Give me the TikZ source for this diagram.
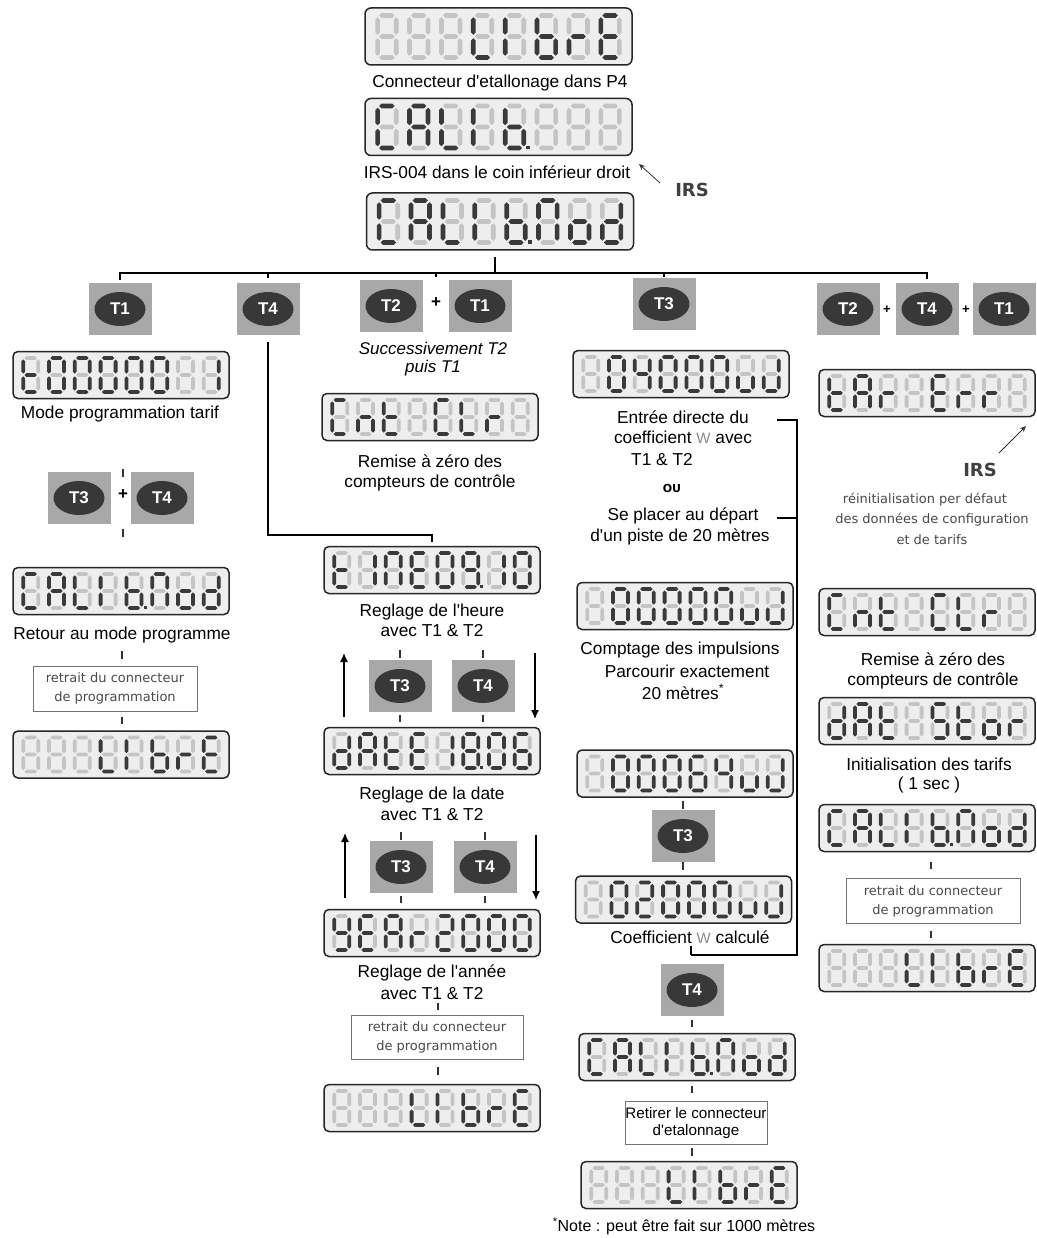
\documentclass[tikz,border=0pt]{standalone}
\usepackage{fontspec}
\setmainfont{Liberation Sans}
\newfontfamily\mainf{Liberation Sans}
\newfontfamily\smallf{DejaVu Sans}
\usetikzlibrary{shapes.geometric,arrows.meta}
\definecolor{segon}{HTML}{3A3A3A}
\definecolor{segoff}{HTML}{C4C4C4}
\definecolor{lcdbg}{HTML}{EEEEEE}
\definecolor{btnsq}{HTML}{A8A8A8}
\definecolor{btnel}{HTML}{383838}
\definecolor{greytxt}{HTML}{4A4A4A}
\definecolor{wgrey}{HTML}{8A8A8A}

\makeatletter
\newcommand\setsegcol[2]{\edef\segtmp{\noexpand\in@{#1}{#2}}\segtmp
  \ifin@\colorlet{segc}{segon}\else\colorlet{segc}{segoff}\fi}
\newcommand\dpdot[1]{\edef\segtmp{\noexpand\in@{p}{#1}}\segtmp
  \ifin@\fill[segon] (9.6,15.2) rectangle (12.6,18.2);\fi}
\makeatother
\newcommand\hseg[3]{\setsegcol{#1}{#3}%
  \fill[segc] (-6.2,#2) -- (-4.3,#2-1.9) -- (4.3,#2-1.9) -- (6.2,#2) -- (4.3,#2+1.9) -- (-4.3,#2+1.9) -- cycle;}
\newcommand\vseg[5]{\setsegcol{#1}{#5}%
  \fill[segc] (#2,#3) -- (#2+1.9,#3+1.9) -- (#2+1.9,#4-1.9) -- (#2,#4) -- (#2-1.9,#4-1.9) -- (#2-1.9,#3+1.9) -- cycle;}
\newcommand\sdigit[1]{%
  \hseg{a}{-17}{#1}\hseg{g}{0}{#1}\hseg{d}{17}{#1}%
  \vseg{f}{-7.5}{-15.6}{-1.4}{#1}\vseg{b}{7.5}{-15.6}{-1.4}{#1}%
  \vseg{e}{-7.5}{1.4}{15.6}{#1}\vseg{c}{7.5}{1.4}{15.6}{#1}%
  \dpdot{#1}}
\newcommand\lcdshow[3]{%
  \begin{scope}[shift={(#1.center)},scale=#2]
  \foreach \dg [count=\i] in #3 {
    \begin{scope}[shift={({-90.3+25.8*(\i-1)},0)}]
      \sdigit{\dg}
    \end{scope}}
  \end{scope}}
\newcommand\tbtn[4]{%
  \node[btnbox] (#1) at (#2,#3) {};
  \node[btnoval] (#1e) at (#1.center) {#4};}
\newcommand\tick[3]{\draw[tickline] (#1,#2) -- (#1,#3);}

\def\LIBRE{-,-,-,fed,fe,fedcg,eg,afged}
\def\CALB{afed,abcefg,fed,fe,fedcgp,-,-,-}
\def\CALMOD{afed,abcefg,fed,fe,fedcgp,abcef,cdeg,bcdeg}
\def\TZERO{fedg,abcdef,abcdef,abcdef,abcdef,abcdef,-,bc}
\def\CNTCLR{afed,ceg,fedg,-,afed,fed,eg,-}
\def\TIMEH{fedg,bc,abcef,afged,abcdef,abcdfgp,bc,abcdef}
\def\DATEH{bcdeg,abcefg,fedg,afged,bc,abcdefgp,abcdef,acdefg}
\def\YEARH{bcdfg,afged,abcefg,eg,abdeg,abcdef,abcdef,abcdef}
\def\CA{-,abcdef,bcfg,abcdef,abcdef,abcdef,cde,bcde}
\def\CB{-,abcdef,abcdef,abcdef,abcdef,abcdef,cde,bcde}
\def\CC{-,abcdef,abcdef,abcdef,acdefg,bcfg,cde,bcde}
\def\CD{-,abcdef,abdeg,abcdef,abcdef,abcdef,cde,bcde}
\def\TARERR{fedg,abcefg,eg,-,afged,eg,eg,-}
\def\DATSTOR{bcdeg,abcefg,fedg,-,acdfg,fedg,cdeg,eg}

\begin{document}
\begin{tikzpicture}[x=1pt,y=-1pt,
  lcd/.style={draw=black!85, line width=1.5pt, fill=lcdbg, rounded corners=5pt,
    minimum width=216pt, minimum height=47pt, inner sep=0pt},
  lcdbig/.style={lcd, minimum width=267pt, minimum height=57pt, rounded corners=6pt},
  btnbox/.style={fill=btnsq, minimum width=63pt, minimum height=52pt, inner sep=0pt},
  btnoval/.style={ellipse, fill=btnel, minimum width=51pt, minimum height=34pt, inner sep=0pt,
    text=white, font=\mainf\fontsize{17}{17}\selectfont\bfseries},
  txt/.style={font=\mainf\fontsize{17.3}{20}\selectfont, inner sep=0pt, anchor=center},
  itxt/.style={txt, font=\mainf\fontsize{17}{20}\selectfont\itshape},
  stxt/.style={font=\smallf\fontsize{13}{15}\selectfont, text=greytxt, inner sep=0pt},
  irstxt/.style={font=\smallf\fontsize{18}{18}\selectfont\bfseries, text=black!75, inner sep=0pt},
  rbox/.style={draw=black!55, line width=0.9pt, fill=white, inner sep=0pt},
  conn/.style={draw=black, line width=1.3pt},
  tickline/.style={draw=black!80, line width=1.3pt},
  updown/.style={draw=black, line width=1.3pt, -{Latex[length=9pt,width=8pt]}},
  plus/.style={font=\mainf\fontsize{17}{17}\selectfont\bfseries, inner sep=0pt},
  splus/.style={font=\mainf\fontsize{13}{13}\selectfont\bfseries, inner sep=0pt}]
\useasboundingbox[fill=white] (0,0) rectangle (1036,1238);

% ---------- top column ----------
\node[lcdbig] (d1) at (498.5,36.5) {};
\lcdshow{d1}{1.236}{\LIBRE}
\node[txt] (t1) at (500,83) {Connecteur d'etallonage dans P4};
\node[lcdbig] (d2) at (498.5,127) {};
\lcdshow{d2}{1.236}{\CALB}
\node[txt] (t2) at (497,172) {IRS-004 dans le coin inférieur droit};
\node[irstxt] (irs1) at (692,190) {IRS};
\coordinate (a1s) at (660,183);
\coordinate (a1e) at (639,164);
\draw[draw=black!80, line width=0.8pt, -{Stealth[length=6pt,width=5pt]}] (a1s) -- (a1e);
\node[lcdbig] (d3) at (500,221.5) {};
\lcdshow{d3}{1.236}{\CALMOD}

% ---------- bus ----------
\coordinate (busL) at (120,273);
\coordinate (busR) at (927,273);
\coordinate (busC) at (495,273);
\draw[conn] (495,257) -- (busC);
\draw[conn] (120,280) -- (busL) -- (busR) -- (927,279);
\draw[conn] (268,273) -- (268,278);
\draw[conn] (436,273) -- (436,277);
\draw[conn] (664,273) -- (664,277);

% ---------- buttons row ----------
\tbtn{bA}{120}{309}{T1}
\tbtn{bB}{268}{309}{T4}
\tbtn{bC}{391}{306}{T2}
\node[plus] (pC) at (436,303) {+};
\tbtn{bD}{480}{306}{T1}
\tbtn{bE}{664}{304}{T3}
\tbtn{bF}{848}{309}{T2}
\node[splus] (pF) at (887,310) {+};
\tbtn{bG}{927}{309}{T4}
\node[splus] (pG) at (966,310) {+};
\tbtn{bH}{1004}{309}{T1}

% ---------- column 1 ----------
\node[lcd] (dL1) at (121,375) {};
\lcdshow{dL1}{1}{\TZERO}
\node[txt] (tL1) at (120,414) {Mode programmation tarif};
\tick{123}{469}{477}
\tbtn{bL1}{79}{498}{T3}
\node[plus] (pL) at (123,495) {+};
\tbtn{bL2}{162}{498}{T4}
\tick{123}{529}{537}
\node[lcd] (dL2) at (121,591) {};
\lcdshow{dL2}{1}{\CALMOD}
\node[txt] (tL2) at (122,635) {Retour au mode programme};
\tick{122}{651}{659}
\node[rbox, minimum width=164pt, minimum height=45pt] (boxL) at (115,688.5) {};
\node[stxt] (boxLa) at (115,678) {retrait du connecteur};
\node[stxt] (boxLb) at (115,698) {de programmation};
\tick{122}{717}{724}
\node[lcd] (dL3) at (121,754.5) {};
\lcdshow{dL3}{1}{\LIBRE}

% ---------- column 2 (T2+T1) ----------
\node[itxt] (tS1) at (433,348) {Successivement T2};
\node[itxt] (tS2) at (433,368) {puis T1};
\node[lcd] (dC1) at (430,417) {};
\lcdshow{dC1}{1}{\CNTCLR}
\node[txt] (tC1) at (430,461) {Remise à zéro des};
\node[txt] (tC2) at (430,483) {compteurs de contrôle};

% ---------- column T4 ----------
\node[lcd] (dC2) at (432,570) {};
\lcdshow{dC2}{1}{\TIMEH}
\draw[conn] ([yshift=-7pt]bB.south) -- (268,535) -- (432,535) -- ([yshift=4pt]dC2.north);
\node[txt] (tH1) at (432,612) {Reglage de l'heure};
\node[txt] (tH2) at (432,631) {avec T1 \& T2};
\coordinate (up1s) at (344,717); \coordinate (up1e) at (344,653);
\draw[updown] (up1s) -- (up1e);
\coordinate (dn1s) at (535,653); \coordinate (dn1e) at (535,719);
\draw[updown] (dn1s) -- (dn1e);
\tick{400}{650}{658}\tick{400}{715}{722}
\tick{483}{650}{658}\tick{483}{715}{722}
\tbtn{bH3}{400}{686}{T3}
\tbtn{bH4}{483}{686}{T4}
\node[lcd] (dC3) at (432,751) {};
\lcdshow{dC3}{1}{\DATEH}
\node[txt] (tD1) at (432,795) {Reglage de la date};
\node[txt] (tD2) at (432,815) {avec T1 \& T2};
\coordinate (up2s) at (345,898); \coordinate (up2e) at (345,833);
\draw[updown] (up2s) -- (up2e);
\coordinate (dn2s) at (536,835); \coordinate (dn2e) at (536,900);
\draw[updown] (dn2s) -- (dn2e);
\tick{401}{832}{840}\tick{401}{896}{903}
\tick{485}{832}{840}\tick{485}{896}{903}
\tbtn{bD3}{401}{867}{T3}
\tbtn{bD4}{485}{867}{T4}
\node[lcd] (dC4) at (432,933) {};
\lcdshow{dC4}{1}{\YEARH}
\node[txt] (tY1) at (432,973) {Reglage de l'année};
\node[txt] (tY2) at (432,994) {avec T1 \& T2};
\tick{438}{1003}{1010}
\node[rbox, minimum width=172pt, minimum height=44pt] (boxC) at (437,1037) {};
\node[stxt] (boxCa) at (437,1027) {retrait du connecteur};
\node[stxt] (boxCb) at (437,1047) {de programmation};
\tick{438}{1067}{1075}
\node[lcd] (dC5) at (432,1108) {};
\lcdshow{dC5}{1}{\LIBRE}

% ---------- column T3 ----------
\node[lcd] (dD1) at (681,374) {};
\lcdshow{dD1}{1}{\CA}
\node[txt] (tE1) at (683,417) {Entrée directe du};
\node[txt] (tE2) at (683,437) {coefficient {\color{wgrey}\fontsize{15}{15}\selectfont W} avec};
\node[txt] (tE3) at (662,460) {T1 \& T2};
\node[font=\smallf\fontsize{11}{11}\selectfont\bfseries, inner sep=0pt] (tOU) at (672,488) {OU};
\node[txt] (tE4) at (683,516) {Se placer au départ};
\node[txt] (tE5) at (680,537) {d'un piste de 20 mètres};
\coordinate (br1) at (777,420);
\coordinate (br2) at (777,518);
\coordinate (brc) at (797,955);
\coordinate (brj) at (691,955);
\draw[conn] (br1) -- (797,420) -- (brc) -- (brj);
\draw[conn] (br2) -- (797,518);
\node[lcd] (dD2) at (685,606) {};
\lcdshow{dD2}{1}{\CB}
\node[txt] (tP1) at (680,650) {Comptage des impulsions};
\node[txt] (tP2) at (687,671) {Parcourir exactement};
\node[txt] (tP3) at (683,692) {20 mètres\textsuperscript{*}};
\node[lcd] (dD3) at (685,773.5) {};
\lcdshow{dD3}{1}{\CC}
\tick{683}{801}{809}
\tbtn{bK3}{683}{836}{T3}
\tick{683}{862}{870}
\node[lcd] (dD4) at (683.5,899.5) {};
\lcdshow{dD4}{1}{\CD}
\node[txt] (tW) at (690,937) {Coefficient {\color{wgrey}\fontsize{15}{15}\selectfont W} calculé};
\draw[conn] (691,946) -- (brj);
\tbtn{bK4}{692}{990}{T4}
\tick{692}{1020}{1027}
\node[lcd] (dD5) at (687,1057) {};
\lcdshow{dD5}{1}{\CALMOD}
\tick{692}{1086}{1093}
\node[rbox, minimum width=142pt, minimum height=43pt] (boxD) at (696,1122.5) {};
\node[txt, font=\mainf\fontsize{15.2}{17}\selectfont] (boxDa) at (696,1113) {Retirer le connecteur};
\node[txt, font=\mainf\fontsize{15.2}{17}\selectfont] (boxDb) at (696,1132) {d'etalonnage};
\tick{692}{1148}{1156}
\node[lcd] (dD6) at (689,1185) {};
\lcdshow{dD6}{1}{\LIBRE}
\node[txt, font=\mainf\fontsize{16}{18}\selectfont] (tNote) at (684,1226) {\textsuperscript{*}Note : peut être fait sur 1000 mètres};

% ---------- right column ----------
\node[lcd] (dR1) at (927,393) {};
\lcdshow{dR1}{1}{\TARERR}
\coordinate (a2s) at (999,453);
\coordinate (a2e) at (1026,426);
\draw[draw=black!80, line width=0.8pt, -{Stealth[length=6pt,width=5pt]}] (a2s) -- (a2e);
\node[irstxt] (irs2) at (980,470) {IRS};
\node[stxt] (tR1) at (925,500) {réinitialisation per défaut};
\node[stxt] (tR2) at (932,520) {des données de configuration};
\node[stxt] (tR3) at (932,540) {et de tarifs};
\node[lcd] (dR2) at (927,612) {};
\lcdshow{dR2}{1}{\CNTCLR}
\node[txt] (tR4) at (933,659) {Remise à zéro des};
\node[txt] (tR5) at (933,681) {compteurs de contrôle};
\node[lcd] (dR3) at (927,721) {};
\lcdshow{dR3}{1}{\DATSTOR}
\node[txt] (tR6) at (929,764) {Initialisation des tarifs};
\node[txt] (tR7) at (929,785) {( 1 sec )};
\node[lcd] (dR4) at (927,828) {};
\lcdshow{dR4}{1}{\CALMOD}
\tick{931}{862}{869}
\node[rbox, minimum width=174pt, minimum height=45pt] (boxR) at (933,901) {};
\node[stxt] (boxRa) at (933,891) {retrait du connecteur};
\node[stxt] (boxRb) at (933,911) {de programmation};
\tick{931}{931}{938}
\node[lcd] (dR5) at (927,968) {};
\lcdshow{dR5}{1}{\LIBRE}
\end{tikzpicture}
\end{document}
